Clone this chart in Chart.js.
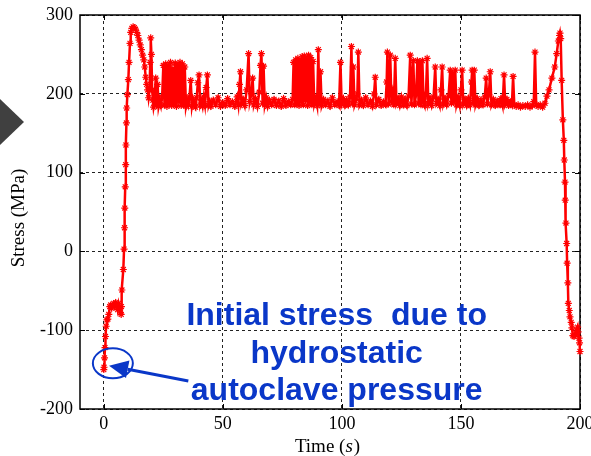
<!DOCTYPE html>
<html>
<head>
<meta charset="utf-8">
<script src="https://cdn.jsdelivr.net/npm/chart.js@4.4.1/dist/chart.umd.min.js"></script>
<style>
  html, body { margin: 0; padding: 0; background: #fff; }
  #wrap { width: 591px; height: 456px; position: relative; }
</style>
</head>
<body>
<div id="wrap"><canvas id="canvas"></canvas></div>
<script>
// stress history during the cure cycle
var timeS = [
  0, 0.1, 0.3, 0.5, 0.7, 1.0, 1.3, 1.7, 2.1, 2.5,
  2.9, 3.3, 3.7, 4.2, 4.6, 5.0, 5.4, 5.8, 6.2, 6.6,
  7.0, 7.3, 7.4, 7.6, 8.2, 8.5, 8.7, 8.8, 9.0, 9.2,
  9.3, 9.5, 9.6, 9.9, 10.3, 10.6, 11.0, 11.3, 11.8, 12.3,
  12.8, 13.3, 13.8, 14.3, 14.8, 15.3, 15.8, 16.3, 16.8, 17.2,
  17.6, 18.0, 18.4, 18.8, 19.2, 19.5, 19.7, 20.0, 20.3, 20.6,
  20.9, 21.3, 21.8, 22.2, 22.6, 23.0, 23.5, 24.0, 24.5, 25.0,
  25.5, 26.0, 26.5, 27.0, 27.5, 28.0, 28.5, 29.0, 29.5, 30.0,
  30.5, 31.0, 31.5, 32.0, 32.5, 33.0, 33.5, 34.0, 34.5, 35.0,
  35.5, 36.0, 36.5, 37.0, 37.5, 38.0, 38.5, 39.0, 39.5, 40.0,
  40.5, 41.0, 41.5, 42.0, 42.5, 43.0, 43.5, 44.0, 44.5, 45.0,
  46, 47, 48, 49, 50, 51, 52, 53, 54, 55,
  56, 56.5, 57.0, 57.4, 57.8, 58.5, 59.2, 60.0, 60.8, 61.3,
  62.0, 62.5, 63.0, 63.7, 64.5, 65.3, 65.8, 66.2, 66.7, 67.1,
  67.6, 68.2, 68.8, 69.5, 70.5, 71.5, 72.5, 73.5, 74.5, 75.5,
  76.5, 77.5, 78.5, 79.3, 79.7, 80.2, 80.6, 81.1, 81.5, 82.0,
  82.4, 82.9, 83.3, 83.8, 84.2, 84.7, 85.1, 85.6, 86.0, 86.5,
  86.9, 87.4, 87.9, 88.4, 89.0, 89.6, 90.1, 90.5, 91.0, 91.5,
  92.3, 93.2, 94.1, 95, 96, 97, 98, 98.8, 99.4, 99.9,
  100.6, 101.3, 102, 102.7, 103.4, 104.0, 104.4, 104.8, 105.3, 106,
  106.5, 106.9, 107.4, 108.2, 109, 110, 111, 112, 112.8, 113.5,
  114, 114.5, 115.5, 116.5, 117.5, 118.3, 118.8, 119.1, 119.6, 120.3,
  120.8, 121.3, 121.8, 122.4, 122.9, 123.6, 124.3, 125, 125.8, 126.5,
  127.3, 128, 128.7, 129.2, 130, 130.5, 131.2, 131.7, 132.2, 132.7,
  133.2, 133.8, 134.3, 134.8, 135.3, 135.8, 136.3, 137, 137.7, 138.5,
  139.2, 139.7, 140.4, 141.1, 141.6, 142.1, 142.6, 143.3, 144, 144.8,
  145.5, 146, 146.5, 147, 147.6, 148.1, 148.8, 149.5, 150, 150.5,
  151, 151.7, 152.4, 153.1, 153.8, 154.4, 154.7, 155.2, 155.6, 156.1,
  156.8, 157.6, 158.4, 159.2, 160, 160.6, 161.1, 161.7, 162.3, 162.8,
  163.6, 164.4, 165.2, 166, 166.8, 167.5, 168.1, 168.6, 169.3, 170,
  170.8, 171.4, 171.9, 172.4, 173.2, 174, 175, 176, 177, 178,
  179, 180, 180.6, 181.1, 181.6, 182.4, 183.3, 184.3, 185.3, 186.1,
  187, 188.2, 189.4, 190.2, 190.9, 191.4, 191.6, 191.9, 192.3, 192.8,
  193.2, 193.4, 193.7, 193.8, 194.1, 194.4, 194.6, 194.9, 195.1, 195.5,
  195.8, 196.3, 196.6, 197.0, 197.5, 197.9, 198.3, 198.6, 199.0, 199.2,
  199.6, 199.8, 200
];

var stressMPa = [
  -150, -147, -135, -122, -108, -95, -87, -86, -80, -70,
  -68, -72, -69, -66, -70, -65, -68, -74, -66, -71,
  -78, -80, -70, -49, -23, 3, 30, 55, 82, 110,
  135, 163, 182, 199, 218, 240, 264, 278, 283, 285,
  284, 282, 278, 274, 268, 262, 256, 249, 243, 234,
  221, 212, 205, 195, 205, 240, 271, 250, 205, 192,
  183, 190, 220, 186, 212, 184, 192, 185, 196, 236,
  186, 238, 184, 236, 188, 240, 185, 232, 187, 239,
  184, 236, 190, 240, 185, 238, 186, 234, 184, 192,
  186, 196, 217, 184, 193, 187, 183, 195, 214, 224,
  186, 191, 184, 196, 186, 208, 224, 185, 190, 184,
  192, 186, 195, 184, 189, 185, 194, 186, 190, 184,
  196, 186, 212, 228, 187, 193, 185, 205, 251, 190,
  200, 220, 186, 194, 184, 202, 236, 251, 188, 235,
  186, 195, 184, 192, 186, 193, 185, 191, 184, 194,
  185, 190, 186, 193, 240, 186, 243, 188, 245, 185,
  242, 190, 247, 186, 248, 192, 244, 185, 249, 190,
  246, 186, 241, 187, 194, 185, 256, 188, 228, 185,
  193, 186, 191, 184, 195, 186, 190, 185, 240, 187,
  194, 185, 192, 186, 196, 260, 188, 234, 186, 193,
  200, 253, 186, 192, 185, 195, 186, 191, 184, 200,
  221, 186, 193, 185, 190, 186, 215, 253, 187, 249,
  190, 200, 186, 245, 188, 194, 185, 196, 186, 193,
  185, 197, 249, 187, 242, 186, 200, 242, 188, 240,
  186, 242, 190, 185, 200, 245, 187, 194, 185, 196,
  234, 188, 193, 185, 205, 234, 187, 194, 186, 197,
  230, 188, 226, 190, 230, 186, 195, 185, 205, 230,
  187, 193, 185, 194, 186, 215, 230, 189, 230, 186,
  194, 185, 192, 186, 196, 220, 187, 199, 228, 186,
  193, 185, 191, 186, 194, 185, 224, 187, 193, 185,
  190, 186, 222, 186, 184, 186, 183, 185, 184, 186,
  183, 185, 190, 253, 186, 184, 186, 183, 188, 197,
  205, 220, 234, 251, 267, 274, 277, 270, 217, 167,
  141, 116, 88, 65, 36, 10, -15, -40, -66, -75,
  -83, -90, -97, -107, -108, -106, -104, -100, -96, -102,
  -110, -116, -127
];

var xTicks = [0, 50, 100, 150, 200];
var yTicks = [-200, -100, 0, 100, 200, 300];

var noteLines = ['Initial stress  due to', 'hydrostatic', 'autoclave pressure'];

var serif = '"Liberation Serif", "Times New Roman", serif';
var blue = '#0a37c8';

// frame, inward tick marks, axis titles, callout and the side marker
var decor = {
  id: 'decor',
  beforeDatasetsDraw: function(chart) {
    var ctx = chart.ctx, a = chart.chartArea;
    var xs = chart.scales.x, ys = chart.scales.y;
    ctx.save();
    ctx.strokeStyle = '#000';
    ctx.lineWidth = 1;
    ctx.beginPath();
    xTicks.forEach(function(v) {
      var px = Math.round(xs.getPixelForValue(v)) + 0.5;
      ctx.moveTo(px, a.bottom); ctx.lineTo(px, a.bottom - 5);
      ctx.moveTo(px, a.top); ctx.lineTo(px, a.top + 5);
    });
    yTicks.forEach(function(v) {
      var py = Math.round(ys.getPixelForValue(v)) + 0.5;
      ctx.moveTo(a.left, py); ctx.lineTo(a.left + 5, py);
      ctx.moveTo(a.right, py); ctx.lineTo(a.right - 5, py);
    });
    ctx.stroke();
    ctx.lineWidth = 1.5;
    ctx.strokeRect(a.left, a.top, a.right - a.left, a.bottom - a.top);
    ctx.restore();
  },
  afterDatasetsDraw: function(chart) {
    var ctx = chart.ctx;
    var xs = chart.scales.x, ys = chart.scales.y;
    ctx.save();

    // ellipse round the first points
    var cx = xs.getPixelForValue(3.8), cy = ys.getPixelForValue(-142);
    var rx = xs.getPixelForValue(3.8 + 8.4) - cx;
    var ry = ys.getPixelForValue(-142) - ys.getPixelForValue(-123);
    ctx.strokeStyle = blue;
    ctx.lineWidth = 2;
    ctx.beginPath();
    ctx.ellipse(cx, cy, rx, ry, 0, 0, Math.PI * 2);
    ctx.stroke();

    // arrow from the note to the ellipse
    var tx = xs.getPixelForValue(2.2), ty = ys.getPixelForValue(-145);
    var fx = xs.getPixelForValue(35.5), fy = ys.getPixelForValue(-164.5);
    var ang = Math.atan2(ty - fy, tx - fx);
    var headLen = 19, headW = 9;
    var bx = tx - headLen * Math.cos(ang), by = ty - headLen * Math.sin(ang);
    ctx.lineWidth = 3;
    ctx.beginPath();
    ctx.moveTo(fx, fy);
    ctx.lineTo(bx, by);
    ctx.stroke();
    ctx.fillStyle = blue;
    ctx.beginPath();
    ctx.moveTo(tx, ty);
    ctx.lineTo(bx + headW * Math.sin(ang), by - headW * Math.cos(ang));
    ctx.lineTo(bx - headW * Math.sin(ang), by + headW * Math.cos(ang));
    ctx.closePath();
    ctx.fill();

    // note text
    ctx.font = 'bold 32px "Liberation Sans", Arial, sans-serif';
    ctx.textAlign = 'center';
    ctx.textBaseline = 'alphabetic';
    var nx = xs.getPixelForValue(97.8);
    var baseY = [-93.5, -141.5, -188.5];
    noteLines.forEach(function(t, i) {
      ctx.fillText(t, nx, ys.getPixelForValue(baseY[i]));
    });
    ctx.restore();
  },
  afterDraw: function(chart) {
    var ctx = chart.ctx, a = chart.chartArea;
    ctx.save();
    ctx.fillStyle = '#000';

    // y title
    ctx.font = '19px ' + serif;
    ctx.textAlign = 'center';
    ctx.textBaseline = 'middle';
    ctx.translate(19, 218);
    ctx.rotate(-Math.PI / 2);
    ctx.fillText('Stress (MPa)', 0, 0);
    ctx.setTransform(1, 0, 0, 1, 0, 0);

    // x title with italic unit
    var p1 = 'Time (', p2 = 's', p3 = ')';
    var reg = '19px ' + serif, ita = 'italic 19px ' + serif;
    ctx.font = reg; var w1 = ctx.measureText(p1).width, w3 = ctx.measureText(p3).width;
    ctx.font = ita; var w2 = ctx.measureText(p2).width;
    var x0 = 327 - (w1 + w2 + w3) / 2;
    ctx.textAlign = 'left';
    ctx.textBaseline = 'alphabetic';
    ctx.font = reg; ctx.fillText(p1, x0, 452);
    ctx.font = ita; ctx.fillText(p2, x0 + w1, 452);
    ctx.font = reg; ctx.fillText(p3, x0 + w1 + w2 + 1, 452);

    // side marker
    ctx.fillStyle = '#404040';
    ctx.beginPath();
    ctx.moveTo(0, 99);
    ctx.lineTo(24, 122);
    ctx.lineTo(0, 145);
    ctx.closePath();
    ctx.fill();
    ctx.restore();
  }
};

function printChart() {
  var points = timeS.map(function(t, i) { return { x: t, y: stressMPa[i] }; });
  var ctx = document.getElementById('canvas').getContext('2d');
  new Chart(ctx, {
    type: 'line',
    data: {
      datasets: [{
        data: points,
        borderColor: '#ff0000',
        backgroundColor: '#ff0000',
        borderWidth: 2.5,
        tension: 0,
        pointStyle: 'star',
        pointRadius: 3.5,
        pointBorderWidth: 1.2,
        pointBorderColor: '#ff0000',
        clip: 8
      }]
    },
    options: {
      responsive: true,
      maintainAspectRatio: false,
      animation: false,
      events: [],
      layout: { padding: { top: 15, right: 11, left: 0, bottom: 0 } },
      plugins: { legend: { display: false }, tooltip: { enabled: false } },
      scales: {
        x: {
          type: 'linear',
          min: -10,
          max: 200,
          afterBuildTicks: function(s) { s.ticks = xTicks.map(function(v) { return { value: v }; }); },
          afterFit: function(s) { s.height = 47; s.paddingLeft = 0; s.paddingRight = 0; },
          ticks: { color: '#000', font: { family: serif, size: 18 }, padding: 4, maxRotation: 0, autoSkip: false },
          grid: { color: '#222', lineWidth: 1, drawTicks: false },
          border: { display: false, dash: [3, 3] }
        },
        y: {
          min: -200,
          max: 300,
          afterBuildTicks: function(s) { s.ticks = yTicks.map(function(v) { return { value: v }; }); },
          afterFit: function(s) { s.width = 80; s.paddingTop = 0; s.paddingBottom = 0; },
          ticks: { color: '#000', font: { family: serif, size: 18 }, padding: 7 },
          grid: { color: '#222', lineWidth: 1, drawTicks: false },
          border: { display: false, dash: [3, 3] }
        }
      }
    },
    plugins: [decor]
  });
}

function init() {
  printChart();
}

init();
</script>
</body>
</html>
